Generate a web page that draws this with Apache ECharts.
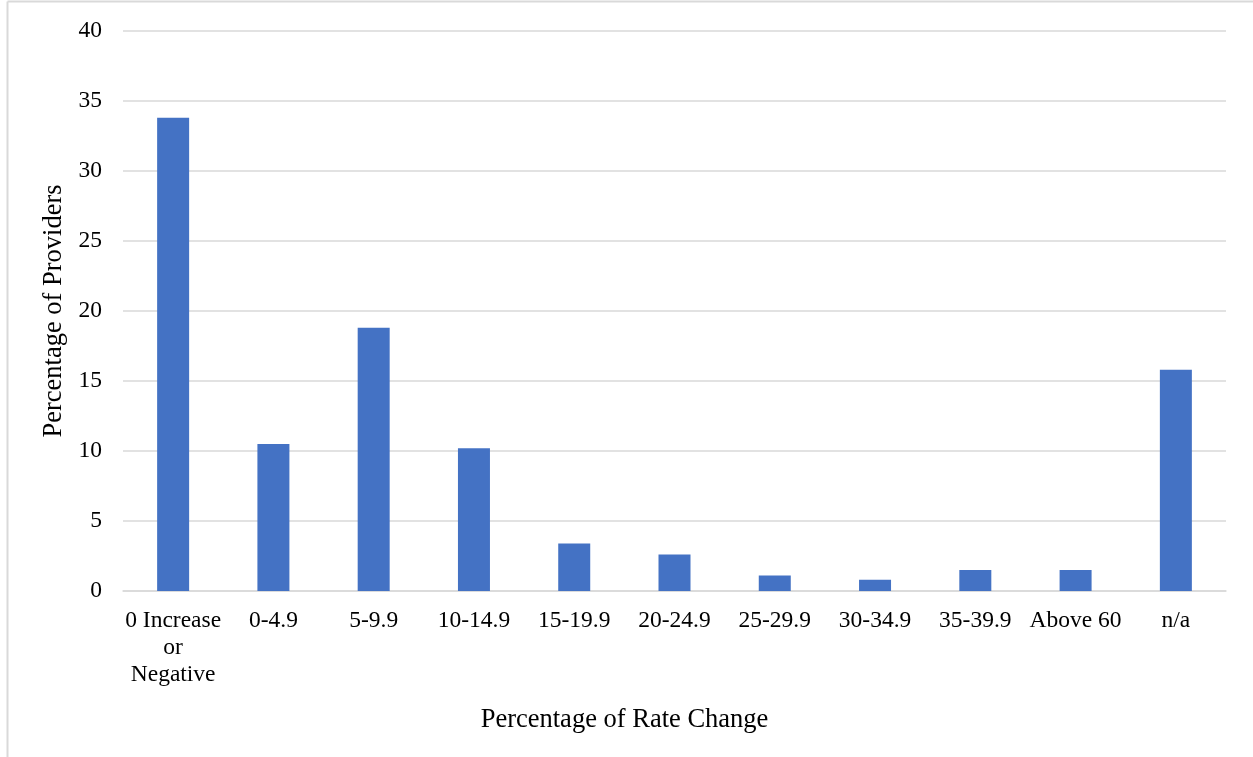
<!DOCTYPE html>
<html>
<head>
<meta charset="utf-8">
<script src="https://cdn.jsdelivr.net/npm/echarts@6/dist/echarts.min.js"></script>
<style>
  html, body { margin: 0; padding: 0; background: #fff; }
  #chart { width: 1253px; height: 757px; }
</style>
</head>
<body>
<div id="chart"></div>
<script>
// Rate-change buckets and share of providers in each
const categories = ['0 Increase\nor\nNegative', '0-4.9', '5-9.9', '10-14.9', '15-19.9', '20-24.9', '25-29.9', '30-34.9', '35-39.9', 'Above 60', 'n/a'];
const providerShare = [33.8, 10.5, 18.8, 10.2, 3.4, 2.6, 1.1, 0.8, 1.5, 1.5, 15.8];
const yTicks = { min: 0, max: 40, interval: 5 };

const font = '"Liberation Serif", "Times New Roman", serif';
const chart = echarts.init(document.getElementById('chart'), null, { renderer: 'canvas' });

chart.setOption({
  backgroundColor: '#ffffff',
  animation: false,
  textStyle: { fontFamily: font, color: '#000' },
  graphic: [
    // outer frame (top and left edges visible)
    { type: 'line', shape: { x1: 7.5, y1: 1.5, x2: 1253, y2: 1.5 }, style: { stroke: '#d9d9d9', lineWidth: 2 } },
    { type: 'line', shape: { x1: 7.5, y1: 1.5, x2: 7.5, y2: 757 }, style: { stroke: '#d9d9d9', lineWidth: 2 } }
  ],
  grid: { left: 123, right: 27, top: 31, bottom: 166, containLabel: false },
  xAxis: {
    type: 'category',
    data: categories,
    name: 'Percentage of Rate Change',
    nameLocation: 'middle',
    nameGap: 116,
    // title sits centred on the whole chart rather than the plot area
    nameTextStyle: { fontFamily: font, fontSize: 26.5, color: '#000', padding: [0, 100, 0, 0] },
    axisLine: { show: true, lineStyle: { color: '#d9d9d9', width: 1.5 } },
    axisTick: { show: false },
    axisLabel: {
      interval: 0,
      margin: 16,
      fontFamily: font,
      fontSize: 23.5,
      lineHeight: 27,
      color: '#000'
    }
  },
  yAxis: {
    type: 'value',
    min: yTicks.min,
    max: yTicks.max,
    interval: yTicks.interval,
    name: 'Percentage of Providers',
    nameLocation: 'middle',
    nameGap: 53,
    nameRotate: 90,
    nameTextStyle: { fontFamily: font, fontSize: 26.5, color: '#000' },
    axisLine: { show: false },
    axisTick: { show: false },
    splitLine: { lineStyle: { color: '#d9d9d9', width: 1.5 } },
    axisLabel: { margin: 21, fontFamily: font, fontSize: 23.5, color: '#000' }
  },
  series: [{
    type: 'bar',
    data: providerShare,
    barWidth: 32,
    itemStyle: { color: '#4472c4' }
  }]
});
</script>
</body>
</html>
